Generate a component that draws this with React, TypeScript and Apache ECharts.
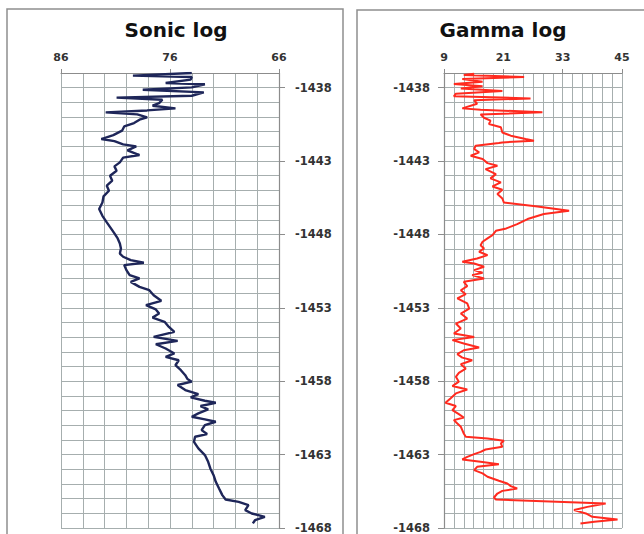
import React, { useEffect, useRef } from "react";
import * as echarts from "echarts";

const sonicDepth = [
  -1437.0, -1437.18, -1437.27, -1437.45, -1437.68, -1437.77, -1437.98, -1438.14, -1438.32, -1438.55,
  -1438.68, -1438.82, -1439.05, -1439.23, -1439.41, -1439.55, -1439.68, -1439.82, -1440.02, -1440.18,
  -1440.41, -1440.64, -1440.93, -1441.23, -1441.5, -1441.64, -1441.86, -1442.0, -1442.27, -1442.59,
  -1442.77, -1443.09, -1443.36, -1443.66, -1444.0, -1444.34, -1444.68, -1445.02, -1445.41, -1445.82,
  -1446.27, -1446.73, -1447.18, -1447.6, -1447.93, -1448.27, -1448.61, -1448.95, -1449.3, -1449.52,
  -1449.75, -1449.93, -1450.09, -1450.43, -1450.77, -1451.0, -1451.23, -1451.57, -1451.8, -1452.14,
  -1452.52, -1452.82, -1453.11, -1453.39, -1453.66, -1453.95, -1454.3, -1454.64, -1454.98, -1455.25,
  -1455.48, -1455.77, -1456.11, -1456.34, -1456.57, -1456.91, -1457.25, -1457.59, -1457.85, -1458.03,
  -1458.26, -1458.6, -1458.88, -1459.1, -1459.33, -1459.47, -1459.69, -1459.92, -1460.19, -1460.42,
  -1460.6, -1460.76, -1460.99, -1461.33, -1461.6, -1461.78, -1462.13, -1462.58, -1463.03, -1463.49,
  -1463.94, -1464.4, -1464.85, -1465.31, -1465.76, -1466.06, -1466.22, -1466.44, -1466.78, -1467.01,
  -1467.24, -1467.47, -1467.69,
];
const sonicValue = [
  74.0, 79.4, 74.0, 74.1, 76.4, 72.8, 74.0, 78.5, 72.9, 74.0,
  80.9, 76.7, 77.0, 77.6, 75.5, 78.1, 81.9, 79.0, 78.1, 78.8,
  79.3, 80.2, 80.4, 81.2, 82.3, 81.1, 80.3, 79.1, 79.9, 78.8,
  80.3, 80.6, 81.1, 80.9, 81.5, 81.3, 81.8, 81.6, 82.1, 82.2,
  82.5, 82.2, 81.8, 81.4, 81.1, 80.8, 80.6, 80.5, 80.6, 80.3,
  79.6, 78.4, 80.2, 80.0, 79.7, 78.8, 79.6, 78.8, 77.9, 77.5,
  76.8, 78.2, 77.3, 77.0, 77.6, 76.5, 76.1, 75.6, 77.5, 75.3,
  77.3, 76.4, 75.6, 76.4, 75.2, 75.5, 75.0, 74.6, 74.4, 74.0,
  75.3, 74.6, 73.4, 74.1, 72.8, 71.8, 73.2, 72.5, 73.4, 74.0,
  72.8, 71.8, 72.8, 73.1, 72.6, 73.7, 73.8, 73.4, 72.8, 72.5,
  72.3, 72.0, 71.8, 71.5, 71.2, 70.9, 69.7, 68.8, 69.1, 68.5,
  67.3, 68.2, 68.4,
];

const gammaDepth = [
  -1437.05, -1437.14, -1437.27, -1437.41, -1437.59, -1437.75, -1437.91, -1438.05, -1438.23, -1438.41,
  -1438.59, -1438.73, -1438.86, -1439.09, -1439.41, -1439.5, -1439.68, -1439.82, -1440.05, -1440.25,
  -1440.48, -1440.7, -1441.05, -1441.27, -1441.5, -1441.61, -1441.73, -1441.77, -1441.95, -1442.18,
  -1442.41, -1442.64, -1442.86, -1443.14, -1443.32, -1443.55, -1443.89, -1444.18, -1444.45, -1444.73,
  -1444.95, -1445.25, -1445.55, -1445.82, -1446.09, -1446.39, -1446.61, -1446.95, -1447.3, -1447.59,
  -1447.75, -1448.05, -1448.27, -1448.5, -1448.73, -1448.95, -1449.18, -1449.41, -1449.64, -1449.86,
  -1449.98, -1450.2, -1450.43, -1450.61, -1450.77, -1451.0, -1451.23, -1451.52, -1451.8, -1452.07,
  -1452.36, -1452.7, -1453.05, -1453.39, -1453.73, -1454.07, -1454.41, -1454.75, -1454.98, -1455.2,
  -1455.43, -1455.7, -1455.89, -1456.16, -1456.39, -1456.57, -1456.84, -1457.14, -1457.43, -1457.7,
  -1458.03, -1458.33, -1458.56, -1458.83, -1459.17, -1459.47, -1459.69, -1459.97, -1460.24, -1460.47,
  -1460.65, -1460.88, -1461.1, -1461.33, -1461.56, -1461.78, -1461.9, -1462.06, -1462.24, -1462.47,
  -1462.65, -1462.81, -1462.97, -1463.15, -1463.33, -1463.49, -1463.65, -1463.83, -1464.06, -1464.28,
  -1464.51, -1464.78, -1464.97, -1465.15, -1465.31, -1465.47, -1465.65, -1465.92, -1466.06, -1466.33,
  -1466.56, -1466.78, -1467.01, -1467.24, -1467.42, -1467.57, -1467.69,
];
const gammaValue = [
  15.1, 13.0, 25.2, 12.7, 16.8, 11.0, 16.8, 12.4, 20.8, 11.4,
  11.0, 26.5, 15.1, 15.7, 12.7, 16.4, 28.9, 16.4, 17.1, 18.4,
  18.1, 20.5, 20.8, 22.5, 25.5, 27.2, 20.8, 20.1, 15.4, 15.1,
  16.1, 14.4, 16.8, 17.8, 19.8, 17.4, 19.5, 18.4, 20.5, 18.8,
  20.8, 19.8, 20.8, 21.1, 27.9, 34.3, 29.2, 25.9, 23.8, 21.6,
  19.5, 18.8, 17.8, 16.8, 16.4, 17.1, 16.1, 17.8, 15.7, 12.7,
  15.1, 17.1, 15.1, 16.8, 14.7, 17.1, 13.0, 13.7, 12.4, 13.4,
  11.7, 13.7, 14.1, 12.4, 13.7, 11.4, 12.4, 11.0, 15.1, 10.7,
  13.0, 16.1, 13.0, 11.7, 12.7, 14.7, 12.4, 13.4, 12.0, 11.4,
  12.0, 10.7, 13.7, 11.4, 10.3, 9.3, 11.4, 10.7, 12.0, 13.0,
  11.0, 11.7, 12.4, 12.7, 13.0, 13.4, 17.8, 21.1, 20.5, 20.8,
  17.4, 16.4, 15.1, 13.7, 12.7, 16.4, 20.1, 15.7, 15.1, 16.8,
  17.8, 20.1, 21.8, 22.5, 23.8, 20.8, 19.8, 19.1, 19.5, 41.7,
  38.0, 35.3, 37.7, 39.0, 44.1, 39.4, 36.6,
];

const titles = ["Sonic log", "Gamma log"];
const sonicRange = [66, 86];
const gammaRange = [9, 45];
const depthRange = [-1468, -1437];

const GRID_COLOR = "#a6aeae";
const AXIS_COLOR = "#8c8c8c";
const LABEL_FONT = {
  fontFamily: "DejaVu Sans",
  fontWeight: "bold" as const,
  fontSize: 11,
  color: "#333",
};

export default function App() {
  const ref = useRef<HTMLDivElement>(null);

  useEffect(() => {
    if (!ref.current) return;
    const chart = echarts.init(ref.current, undefined, { renderer: "svg" });

    const sonicData = sonicDepth.map((d, i) => [sonicValue[i], d]);
    const gammaData = gammaDepth.map((d, i) => [gammaValue[i], d]);

    const xCommon = (gridIndex: number, min: number, max: number, interval: number, minorSplit: number, inverse: boolean) => ({
      type: "value",
      gridIndex,
      position: "top",
      min,
      max,
      interval,
      inverse,
      axisLine: { show: true, lineStyle: { color: AXIS_COLOR, width: 1 } },
      axisTick: { show: true, length: 4, lineStyle: { color: AXIS_COLOR } },
      axisLabel: { ...LABEL_FONT, margin: 10, formatter: (v: number) => String(v) },
      splitLine: { show: true, lineStyle: { color: GRID_COLOR, width: 1 } },
      minorTick: { show: false, splitNumber: minorSplit },
      minorSplitLine: { show: true, lineStyle: { color: GRID_COLOR, width: 1 } },
    });

    const yCommon = (gridIndex: number, position: string, margin: number) => ({
      type: "value",
      gridIndex,
      position,
      min: depthRange[0],
      max: depthRange[1],
      interval: 5,
      axisLine: { show: true, onZero: false, lineStyle: { color: AXIS_COLOR, width: 1.2 } },
      axisTick: { show: true, length: 6, lineStyle: { color: AXIS_COLOR } },
      axisLabel: {
        ...LABEL_FONT,
        fontSize: 11.5,
        margin,
        showMaxLabel: false,
        showMinLabel: true,
        formatter: (v: number) => String(v),
      },
      splitLine: { show: true, lineStyle: { color: GRID_COLOR, width: 1 } },
      minorTick: { show: false, splitNumber: 5 },
      minorSplitLine: { show: true, lineStyle: { color: GRID_COLOR, width: 1 } },
    });

    chart.setOption({
      animation: false,
      backgroundColor: "#ffffff",
      grid: [
        { left: 61, top: 73, width: 218, height: 455, containLabel: false },
        { left: 444, top: 73, width: 178, height: 455, containLabel: false },
      ],
      xAxis: [
        xCommon(0, sonicRange[0], sonicRange[1], 10, 5, true),
        xCommon(1, gammaRange[0], gammaRange[1], 12, 6, false),
      ],
      yAxis: [yCommon(0, "right", 16), yCommon(1, "left", 14)],
      graphic: [
        {
          type: "rect",
          shape: { x: 7, y: 9, width: 336, height: 560 },
          style: { fill: "none", stroke: "#8e8e8e", lineWidth: 1.5 },
          silent: true,
        },
        {
          type: "rect",
          shape: { x: 357, y: 10, width: 320, height: 560 },
          style: { fill: "none", stroke: "#8e8e8e", lineWidth: 1.5 },
          silent: true,
        },
        {
          type: "text",
          x: 176,
          y: 30,
          style: {
            text: titles[0],
            font: 'bold 20px "DejaVu Sans"',
            fill: "#111",
            align: "center",
            verticalAlign: "middle",
          },
          silent: true,
        },
        {
          type: "text",
          x: 503,
          y: 30,
          style: {
            text: titles[1],
            font: 'bold 20px "DejaVu Sans"',
            fill: "#111",
            align: "center",
            verticalAlign: "middle",
          },
          silent: true,
        },
      ],
      series: [
        {
          type: "line",
          xAxisIndex: 0,
          yAxisIndex: 0,
          data: sonicData,
          showSymbol: false,
          symbol: "none",
          lineStyle: { color: "#1e2659", width: 2.4 },
          z: 5,
        },
        {
          type: "line",
          xAxisIndex: 1,
          yAxisIndex: 1,
          data: gammaData,
          showSymbol: false,
          symbol: "none",
          lineStyle: { color: "#ff2a1f", width: 2 },
          z: 5,
        },
      ],
    });

    return () => {
      chart.dispose();
    };
  }, []);

  return (
    <div
      ref={ref}
      style={{ position: "absolute", left: 0, top: 0, width: 644, height: 534, background: "#fff" }}
    />
  );
}
